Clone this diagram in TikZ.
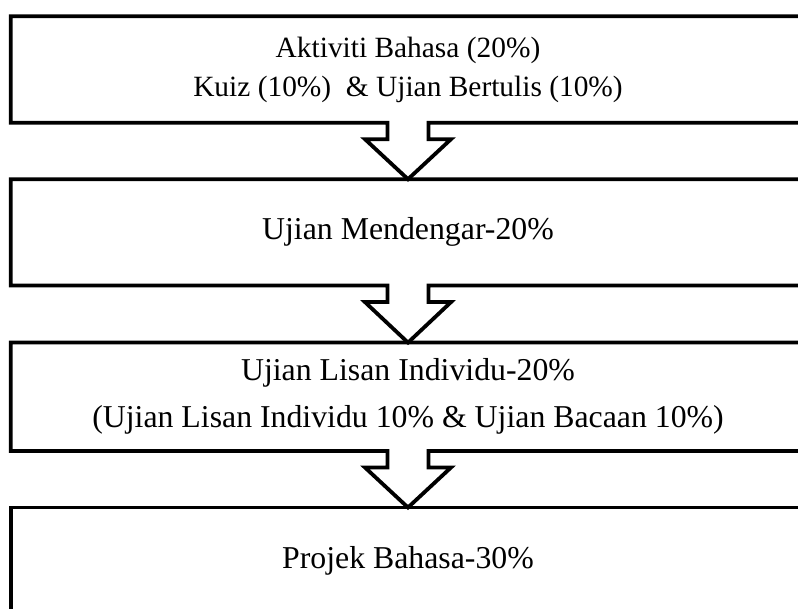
\documentclass[tikz,border=0pt]{standalone}
\usepackage{fontspec}
\setmainfont{Liberation Serif}
\usetikzlibrary{positioning,calc}
\tikzset{
  kotak/.style={inner sep=0pt, minimum width=794pt, minimum height=106pt, align=center,
    font=\fontsize{31.8pt}{39pt}\selectfont},
  garis/.style={line width=3.8pt, draw=black},
}
\begin{document}
\begin{tikzpicture}
\useasboundingbox (0,0) rectangle (798pt,-609pt);
\clip (0,0) rectangle (798pt,-609pt);
\node[kotak, font=\fontsize{29.4pt}{39pt}\selectfont] (aktiviti) at (408pt,-69.5pt)
  {Aktiviti Bahasa (20\%)\\Kuiz (10\%)\ \ \& Ujian Bertulis (10\%)};
\node[kotak, below=56.5pt of aktiviti] (dengar) {Ujian Mendengar-20\%};
\node[kotak, minimum height=108pt, below=57pt of dengar, font=\fontsize{31.8pt}{47pt}\selectfont] (lisan)
  {Ujian Lisan Individu-20\%\\(Ujian Lisan Individu 10\% \& Ujian Bacaan 10\%)};
\node[kotak, below=56.5pt of lisan] (projek) {Projek Bahasa-30\%};
% kotak dan anak panah ke kotak seterusnya
\foreach \a/\b in {aktiviti/dengar, dengar/lisan, lisan/projek}
  \draw[garis] ($(\a.south)+(-20.5pt,0)$) -| (\a.north west) -| (\a.south east)
    -- ($(\a.south)+(20.5pt,0)$) -- ++(0,-16.5pt) -- ++(22.5pt,0) -- (\b.north)
    -- ($(\a.south)+(-43pt,-16.5pt)$) -- ++(22.5pt,0) -- cycle;
\draw[garis] (projek.south west) rectangle (projek.north east);
\end{tikzpicture}
\end{document}
